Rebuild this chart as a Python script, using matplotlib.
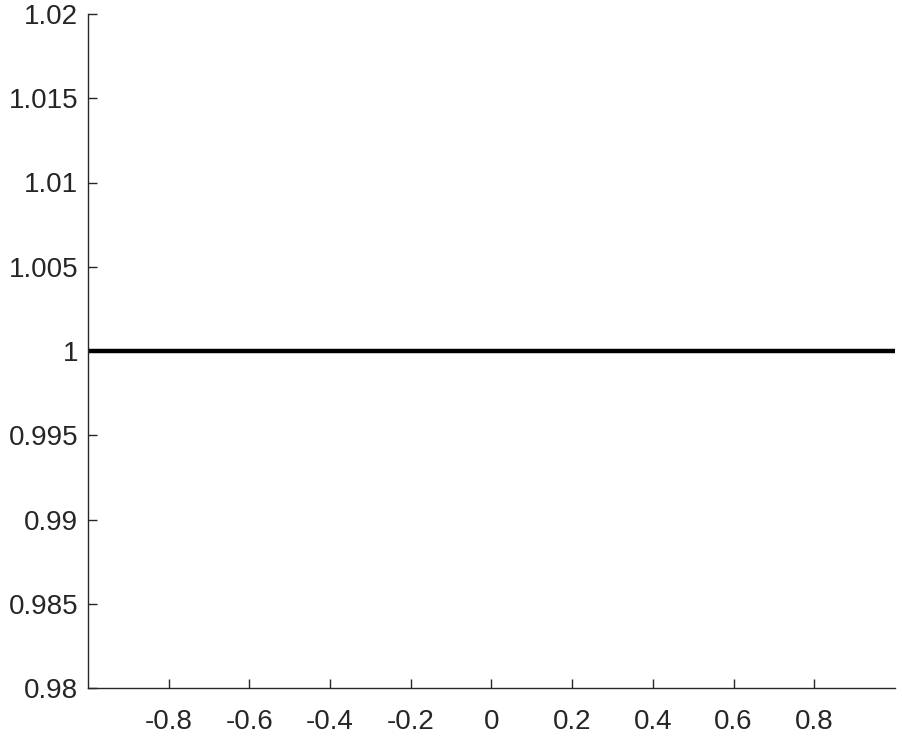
import numpy as np
import matplotlib.pyplot as plt
from matplotlib.ticker import FuncFormatter

x = [-1.0, 1.0]
y = [1.0, 1.0]
xticks = [-0.8, -0.6, -0.4, -0.2, 0, 0.2, 0.4, 0.6, 0.8]
yticks = [0.98, 0.985, 0.99, 0.995, 1.0, 1.005, 1.01, 1.015, 1.02]

plt.rcParams['font.family'] = ['Liberation Sans', 'DejaVu Sans']
fig = plt.figure(figsize=(9.03, 7.43), dpi=100)
ax = fig.add_axes([88/903, 55/743, (895-88)/903, (688-14)/743])

ax.plot(x, y, color='black', linewidth=3.2)
ax.set_xlim(-1, 1)
ax.set_ylim(0.98, 1.02)
ax.set_xticks(xticks)
ax.set_yticks(yticks)
ax.xaxis.set_major_formatter(FuncFormatter(lambda v, p: '%g' % round(v, 4)))
ax.yaxis.set_major_formatter(FuncFormatter(lambda v, p: '%g' % round(v, 4)))

for s in ['top', 'right']:
    ax.spines[s].set_visible(False)
for s in ['left', 'bottom']:
    ax.spines[s].set_color('#262626')
    ax.spines[s].set_linewidth(1.0)
ax.tick_params(direction='in', length=6.5, width=1.0, colors='#262626',
               labelsize=20)
ax.tick_params(axis='x', pad=15)
ax.tick_params(axis='y', pad=7)

plt.savefig('out.png')
